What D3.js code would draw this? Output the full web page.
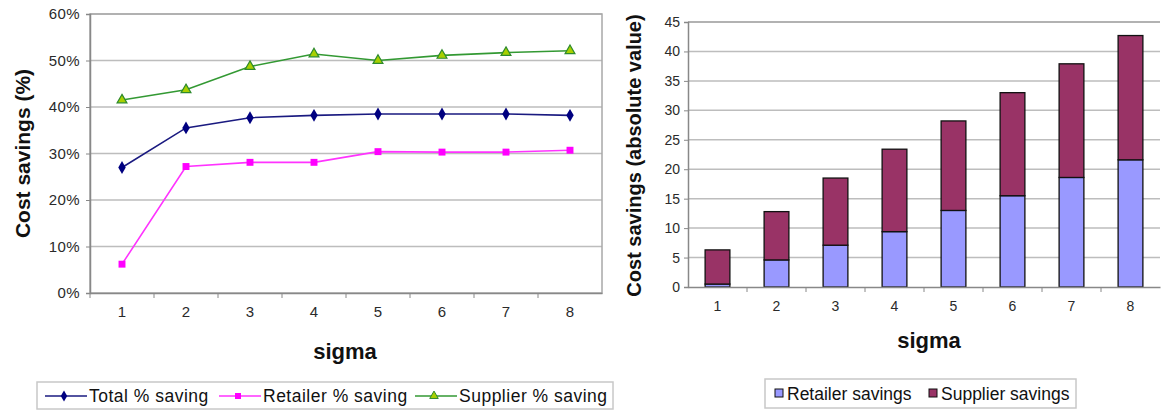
<!DOCTYPE html>
<html>
<head>
<meta charset="utf-8">
<script src="https://cdn.jsdelivr.net/npm/d3@7/dist/d3.min.js"></script>
<style>
  body { margin: 0; background: #fff; }
  text { font-family: "Liberation Sans", Arial, sans-serif; }
</style>
</head>
<body>
<script>
// data
var sigma = ["1", "2", "3", "4", "5", "6", "7", "8"];
var totalPct = [27.0, 35.5, 37.7, 38.2, 38.5, 38.5, 38.5, 38.2];
var retailerPct = [6.2, 27.2, 28.1, 28.1, 30.4, 30.3, 30.3, 30.7];
var supplierPct = [41.5, 43.7, 48.7, 51.4, 50.0, 51.1, 51.7, 52.1];
var retailerSav = [0.5, 4.6, 7.1, 9.4, 13.0, 15.5, 18.6, 21.6];
var supplierSav = [5.8, 8.2, 11.4, 14.0, 15.2, 17.5, 19.3, 21.1];
var pctTicks = [0, 10, 20, 30, 40, 50, 60];
var absTicks = [0, 5, 10, 15, 20, 25, 30, 35, 40, 45];

var W = 1161, H = 411;
var svg = d3.select("body").append("svg").attr("width", W).attr("height", H);

var gridCol = "#bdbdbd", txtCol = "#2a2a2a";

// ---------- left chart ----------
var L = {x0: 90, x1: 602, y0: 14, y1: 293};
var xL = d3.scaleBand().domain(sigma).range([L.x0, L.x1]);
var yL = d3.scaleLinear().domain([0, 60]).range([L.y1, L.y0]);

var gl = svg.append("g");
gl.selectAll("line.grid").data(pctTicks.slice(1)).enter().append("line")
  .attr("x1", L.x0).attr("x2", L.x1)
  .attr("y1", function(d) { return yL(d); }).attr("y2", function(d) { return yL(d); })
  .attr("stroke", gridCol).attr("stroke-width", 1.5);
gl.append("rect").attr("x", L.x0).attr("y", L.y0).attr("width", L.x1 - L.x0).attr("height", L.y1 - L.y0)
  .attr("fill", "none").attr("stroke", "#a8a8a8").attr("stroke-width", 1.5);

var axL = gl.append("g").attr("transform", "translate(" + L.x0 + ",0)")
  .call(d3.axisLeft(yL).tickValues(pctTicks).tickSize(4).tickFormat(function(d) { return d + "%"; }));
var axB = gl.append("g").attr("transform", "translate(0," + L.y1 + ")")
  .call(d3.axisBottom(xL).tickSize(0).tickPadding(13));
[axL, axB].forEach(function(a) {
  a.select(".domain").attr("stroke", "#888").attr("stroke-width", 1.5);
  a.selectAll("line").attr("stroke", "#888");
  a.selectAll("text").attr("fill", txtCol).style("font-size", "15px");
});
axL.selectAll("text").attr("x", -10).style("letter-spacing", "0.4px");
// category separator ticks
gl.selectAll("line.sep").data(sigma).enter().append("line")
  .attr("x1", function(d) { return xL(d); }).attr("x2", function(d) { return xL(d); })
  .attr("y1", L.y1).attr("y2", L.y1 + 5).attr("stroke", "#888");

var cx = function(i) { return xL(sigma[i]) + xL.bandwidth() / 2; };
var line = d3.line().x(function(d, i) { return cx(i); }).y(function(d) { return yL(d); });

var seriesL = [
  {name: "Total % saving", data: totalPct, stroke: "#1a1a80", fill: "#000080", sym: d3.symbolDiamond, size: 48},
  {name: "Retailer % saving", data: retailerPct, stroke: "#ff33ff", fill: "#ff00ff", sym: d3.symbolSquare, size: 48},
  {name: "Supplier % saving", data: supplierPct, stroke: "#339933", fill: "#a8d000", sym: d3.symbolTriangle, size: 42}
];
seriesL.forEach(function(s) {
  gl.append("path").datum(s.data).attr("d", line).attr("fill", "none")
    .attr("stroke", s.stroke).attr("stroke-width", 1.6);
  gl.selectAll(null).data(s.data).enter().append("path")
    .attr("d", d3.symbol().type(s.sym).size(s.size))
    .attr("transform", function(d, i) { return "translate(" + cx(i) + "," + yL(d) + ")"; })
    .attr("fill", s.fill)
    .attr("stroke", s.sym === d3.symbolTriangle ? "#2d8a2d" : "none").attr("stroke-width", 1.2);
});

gl.append("text").attr("transform", "translate(30," + ((L.y0 + L.y1) / 2) + ") rotate(-90)")
  .attr("text-anchor", "middle").attr("font-weight", "bold").style("font-size", "21px").attr("fill", "#111")
  .text("Cost savings (%)");
gl.append("text").attr("x", 345).attr("y", 359).attr("text-anchor", "middle")
  .attr("font-weight", "bold").style("font-size", "22px").attr("fill", "#111").text("sigma");

// legend left
var lgL = gl.append("g");
lgL.append("rect").attr("x", 37).attr("y", 382).attr("width", 576).attr("height", 27)
  .attr("fill", "#fff").attr("stroke", "#c8c8c8").attr("stroke-width", 1.5);
var lgX = [45, 219, 415];
seriesL.forEach(function(s, i) {
  var g = lgL.append("g").attr("transform", "translate(" + lgX[i] + ",396)");
  g.append("line").attr("x1", 0).attr("x2", 42).attr("stroke", s.stroke).attr("stroke-width", 1.6);
  g.append("path").attr("d", d3.symbol().type(s.sym).size(s.size * 0.75)).attr("transform", "translate(19,0)")
    .attr("fill", s.fill).attr("stroke", s.sym === d3.symbolTriangle ? "#2d8a2d" : "none");
  g.append("text").attr("x", 44).attr("y", 6).style("font-size", "17.5px").style("letter-spacing", "0.5px")
    .attr("fill", "#111").text(s.name);
});

// ---------- right chart ----------
var R = {x0: 688, x1: 1160, y0: 22, y1: 287};
var xR = d3.scaleBand().domain(sigma).range([R.x0, R.x1]).paddingInner(0.58).paddingOuter(0.29);
var xRb = d3.scaleBand().domain(sigma).range([R.x0, R.x1]);
var yR = d3.scaleLinear().domain([0, 45]).range([R.y1, R.y0]);

var gr = svg.append("g");
gr.selectAll("line.grid").data(absTicks.slice(1)).enter().append("line")
  .attr("x1", R.x0).attr("x2", R.x1)
  .attr("y1", function(d) { return yR(d); }).attr("y2", function(d) { return yR(d); })
  .attr("stroke", gridCol).attr("stroke-width", 1.5);
gr.append("line").attr("x1", R.x0).attr("x2", R.x1).attr("y1", R.y0).attr("y2", R.y0)
  .attr("stroke", "#a8a8a8").attr("stroke-width", 1.5);

var stackData = sigma.map(function(s, i) { return {s: s, r: retailerSav[i], p: supplierSav[i]}; });
var stack = d3.stack().keys(["r", "p"])(stackData);
var barCols = {r: "#9999ff", p: "#993366"};
gr.selectAll("g.layer").data(stack).enter().append("g")
  .attr("fill", function(d) { return barCols[d.key]; })
  .selectAll("rect").data(function(d) { return d; }).enter().append("rect")
  .attr("x", function(d) { return xR(d.data.s); })
  .attr("width", xR.bandwidth())
  .attr("y", function(d) { return yR(d[1]); })
  .attr("height", function(d) { return yR(d[0]) - yR(d[1]); })
  .attr("stroke", "#111").attr("stroke-width", 1.3);

var axRL = gr.append("g").attr("transform", "translate(" + R.x0 + ",0)")
  .call(d3.axisLeft(yR).tickValues(absTicks).tickSize(4));
var axRB = gr.append("g").attr("transform", "translate(0," + R.y1 + ")")
  .call(d3.axisBottom(xRb).tickSize(0).tickPadding(14));
[axRL, axRB].forEach(function(a) {
  a.select(".domain").attr("stroke", "#888").attr("stroke-width", 1.5);
  a.selectAll("line").attr("stroke", "#888");
  a.selectAll("text").attr("fill", txtCol).style("font-size", "14px");
});
axRL.selectAll("text").attr("x", -8);
gr.selectAll("line.sep").data(sigma.slice(1)).enter().append("line")
  .attr("x1", function(d) { return xRb(d); }).attr("x2", function(d) { return xRb(d); })
  .attr("y1", R.y1).attr("y2", R.y1 + 5).attr("stroke", "#888");

gr.append("text").attr("transform", "translate(641," + ((R.y0 + R.y1) / 2 + 1) + ") rotate(-90)")
  .attr("text-anchor", "middle").attr("font-weight", "bold").style("font-size", "20px").attr("fill", "#111")
  .text("Cost savings (absolute value)");
gr.append("text").attr("x", 929).attr("y", 348).attr("text-anchor", "middle")
  .attr("font-weight", "bold").style("font-size", "22px").attr("fill", "#111").text("sigma");

var lgR = gr.append("g");
lgR.append("rect").attr("x", 765).attr("y", 379).attr("width", 311).attr("height", 29)
  .attr("fill", "#fff").attr("stroke", "#c8c8c8").attr("stroke-width", 1.5);
var lgRItems = [{name: "Retailer savings", key: "r", x: 775}, {name: "Supplier savings", key: "p", x: 929}];
lgRItems.forEach(function(it) {
  lgR.append("rect").attr("x", it.x).attr("y", 389).attr("width", 8).attr("height", 8)
    .attr("fill", barCols[it.key]).attr("stroke", "#111");
  lgR.append("text").attr("x", it.x + 12).attr("y", 400).style("font-size", "17.5px").attr("fill", "#111").text(it.name);
});
</script>
</body>
</html>
